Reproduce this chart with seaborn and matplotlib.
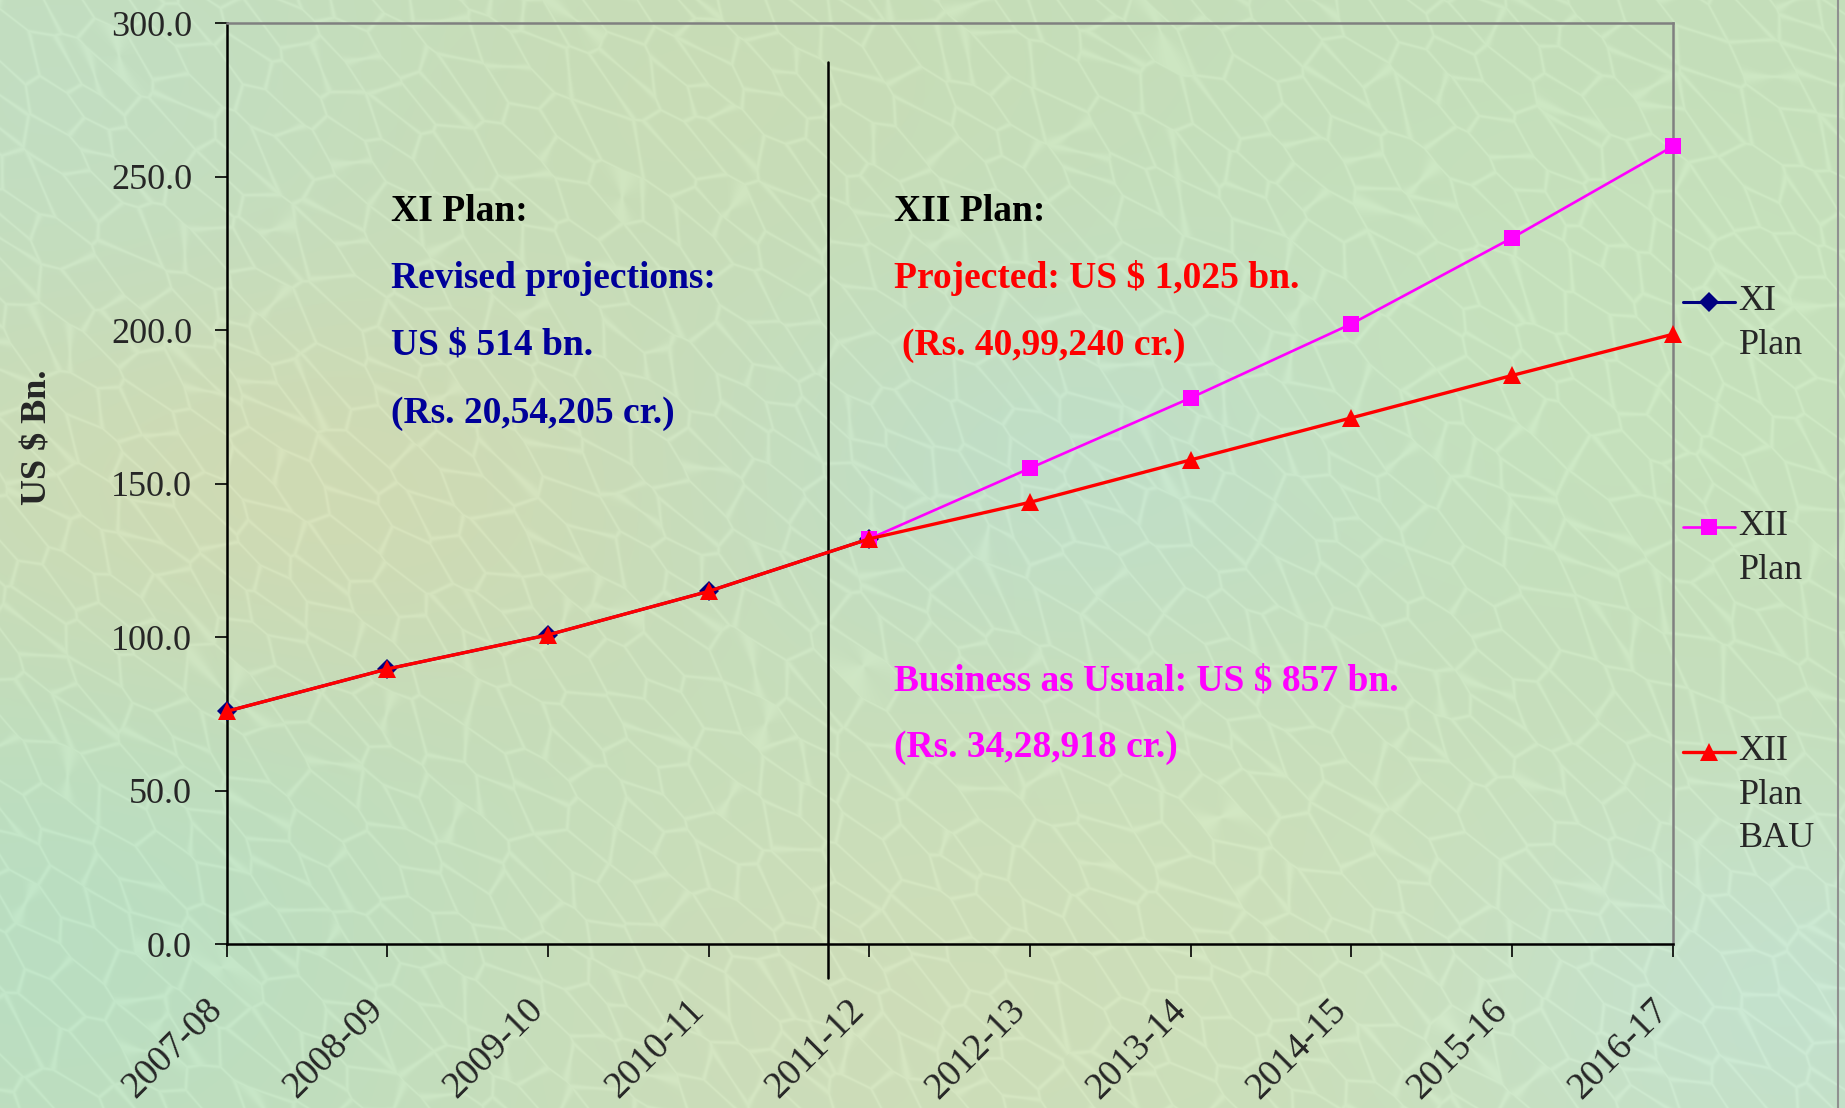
import numpy as np
import pandas as pd
import matplotlib
matplotlib.use("Agg")
import matplotlib.pyplot as plt
import matplotlib.transforms as mtransforms
import seaborn as sns
from matplotlib.legend_handler import HandlerLine2D

# ---- data (US $ bn) ----
years = ["2007-08", "2008-09", "2009-10", "2010-11", "2011-12",
         "2012-13", "2013-14", "2014-15", "2015-16", "2016-17"]
xi_plan_years = years[:5]
xi_plan = [75.8, 89.6, 100.7, 114.9, 132.0]
xii_plan_years = years[4:]
xii_plan = [132.0, 155.0, 177.9, 202.0, 230.0, 259.8]
bau_years = years
xii_bau = [75.8, 89.6, 100.7, 114.9, 132.0, 143.9, 157.7, 171.4, 185.2, 198.6]

series_names = ["XI\nPlan", "XII\nPlan", "XII\nPlan\nBAU"]

pos = {y: i for i, y in enumerate(years)}
df = pd.concat([
    pd.DataFrame({"year": xi_plan_years, "value": xi_plan, "series": series_names[0]}),
    pd.DataFrame({"year": xii_plan_years, "value": xii_plan, "series": series_names[1]}),
    pd.DataFrame({"year": bau_years, "value": xii_bau, "series": series_names[2]}),
], ignore_index=True)
df["x"] = df["year"].map(pos)

sns.set_theme(style="ticks")
plt.rcParams["font.family"] = ["Liberation Serif", "DejaVu Serif"]

fig = plt.figure(figsize=(18.45, 11.08), dpi=100)

# ---- pastel stone backdrop ----
H, W = 1108, 1845
yy, xx = np.mgrid[0:H, 0:W].astype(np.float32)
fy, fx = yy / H, xx / W
img = np.ones((H, W, 3), dtype=np.float32) * np.array([0.77, 0.87, 0.73], dtype=np.float32)
blobs = [
    (0.17, 0.45, 0.16, (0.83, 0.85, 0.69), 0.8),
    (0.60, 0.42, 0.14, (0.74, 0.87, 0.81), 0.7),
    (0.04, 0.85, 0.18, (0.71, 0.87, 0.77), 0.7),
    (0.05, 0.10, 0.15, (0.75, 0.87, 0.79), 0.5),
    (0.70, 0.85, 0.18, (0.82, 0.88, 0.72), 0.5),
    (0.97, 0.90, 0.14, (0.76, 0.89, 0.85), 0.6),
    (0.45, 0.92, 0.16, (0.83, 0.86, 0.72), 0.5),
    (0.88, 0.30, 0.16, (0.78, 0.89, 0.74), 0.6),
    (0.38, 0.08, 0.14, (0.80, 0.86, 0.70), 0.5),
]
for cx, cy, r, col, a in blobs:
    w = a * np.exp(-((fx - cx) ** 2 + (fy - cy) ** 2) / (2 * r ** 2))
    img = img * (1 - w[..., None]) + np.array(col, dtype=np.float32) * w[..., None]

# faint cell-edge relief, elongated along the diagonal
u = (xx + yy) * 0.7071 * 0.5
v = (xx - yy) * 0.7071
cell = 30.0
iu = np.floor(u / cell).astype(np.int32)
iv = np.floor(v / cell).astype(np.int32)
rng = np.random.default_rng(11)
ou, ov = iu.min() - 2, iv.min() - 2
nu, nv = iu.max() - ou + 3, iv.max() - ov + 3
jit = rng.random((nu, nv, 2)).astype(np.float32)
f1 = np.full((H, W), 1e9, dtype=np.float32)
f2 = np.full((H, W), 1e9, dtype=np.float32)
for du in (-1, 0, 1):
    for dv in (-1, 0, 1):
        cu, cv = iu + du, iv + dv
        j = jit[cu - ou, cv - ov]
        su = (cu + j[..., 0]) * cell
        sv = (cv + j[..., 1]) * cell
        d = np.sqrt((u - su) ** 2 + (v - sv) ** 2)
        f2 = np.where(d < f1, f1, np.minimum(f2, d))
        f1 = np.minimum(f1, d)
edge = np.exp(-((f2 - f1) / 2.2) ** 2)
img = img + 0.035 * edge[..., None]
img = np.clip(img, 0, 1)

bg = fig.add_axes([0, 0, 1, 1], zorder=-10)
bg.imshow(img, aspect="auto", extent=[0, 1, 0, 1], interpolation="antialiased")
bg.axis("off")

ax = fig.add_axes([0.1229, 0.148, 0.7837, 0.8312])
ax.set_facecolor("none")

styles = {
    series_names[0]: dict(color="#000080", marker="D", markersize=10, linewidth=2.2),
    series_names[1]: dict(color="#FF00FF", marker="s", markersize=11.5, linewidth=1.9),
    series_names[2]: dict(color="#FF0000", marker="^", markersize=13, linewidth=2.4),
}
for name in series_names:
    st = styles[name]
    sub = df[df["series"] == name]
    sns.lineplot(data=sub, x="x", y="value", ax=ax, color=st["color"],
                 marker=st["marker"], markersize=st["markersize"],
                 markeredgecolor=st["color"], markerfacecolor=st["color"],
                 markeredgewidth=0, linewidth=st["linewidth"],
                 label=name, legend=False, clip_on=False, zorder=3)

ax.set_xlim(0, len(years) - 1)
ax.set_ylim(0, 300)
ax.set_yticks(np.arange(0, 301, 50))
ax.set_yticklabels([f"{v:.1f}" for v in np.arange(0, 301, 50)], fontsize=26)
ax.set_xticks(range(len(years)))
ax.set_xticklabels(years, fontsize=27, rotation=45, ha="right",
                   rotation_mode="anchor")
ax.tick_params(axis="y", length=9, width=1.2, pad=16, color="black")
ax.tick_params(axis="x", length=9, width=1.2, pad=26, color="black")
shift = mtransforms.ScaledTranslation(-0.22, 0.0, fig.dpi_scale_trans)
for lbl in ax.get_xticklabels():
    lbl.set_transform(lbl.get_transform() + shift)
ax.set_xlabel("")
ax.set_ylabel("US $ Bn.", fontsize=26, fontweight="bold")
ax.yaxis.set_label_coords(-0.119, 0.55)

for side in ["left", "bottom"]:
    ax.spines[side].set_color("black")
    ax.spines[side].set_linewidth(1.8)
for side in ["top", "right"]:
    ax.spines[side].set_visible(True)
    ax.spines[side].set_color("#808080")
    ax.spines[side].set_linewidth(1.8)

# plan-period divider
ax.axvline(3.74, ymin=-0.037, ymax=0.958, color="black", linewidth=1.8,
           clip_on=False, zorder=2)

# annotations
tk = dict(fontsize=27, fontweight="bold", ha="left", va="center")
ax.text(1.025, 238.7, "XI Plan:", color="black", **tk)
ax.text(1.025, 216.9, "Revised projections:", color="#000099", **tk)
ax.text(1.025, 195.1, "US $ 514 bn.", color="#000099", **tk)
ax.text(1.025, 172.9, "(Rs. 20,54,205 cr.)", color="#000099", **tk)
ax.text(4.155, 238.7, "XII Plan:", color="black", **tk)
ax.text(4.155, 216.9, "Projected: US $ 1,025 bn.", color="#FF0000", **tk)
ax.text(4.205, 195.1, "(Rs. 40,99,240 cr.)", color="#FF0000", **tk)
ax.text(4.155, 85.7, "Business as Usual: US $ 857 bn.", color="#FF00FF", **tk)
ax.text(4.155, 63.9, "(Rs. 34,28,918 cr.)", color="#FF00FF", **tk)


class FirstLineHandler(HandlerLine2D):
    """Line handle raised to sit beside the first line of a multi-line label."""

    def __init__(self, lift, **kw):
        super().__init__(**kw)
        self.lift = lift

    def create_artists(self, legend, orig_handle, xdescent, ydescent,
                       width, height, fontsize, trans):
        arts = super().create_artists(legend, orig_handle, xdescent, ydescent,
                                      width, height, fontsize, trans)
        for a in arts:
            a.set_ydata(np.asarray(a.get_ydata()) + self.lift * fontsize)
        return arts


handles, labels = ax.get_legend_handles_labels()
hmap = {h: FirstLineHandler(lift=lab.count("\n") * 0.6)
        for h, lab in zip(handles, labels)}
leg = fig.legend(handles, labels, loc="upper left",
                 bbox_to_anchor=(0.912, 0.7426), bbox_transform=fig.transFigure,
                 frameon=False, fontsize=26, handlelength=1.45,
                 handletextpad=0.1, labelspacing=4.10, borderpad=0,
                 borderaxespad=0, handler_map=hmap)
for t in leg.get_texts():
    t.set_linespacing(1.43)

fig.add_artist(plt.Line2D([0.9963, 0.9963], [0.0, 1.0], color="#909090",
                          linewidth=1.5, transform=fig.transFigure))

fig.savefig("out.png", dpi=100)
